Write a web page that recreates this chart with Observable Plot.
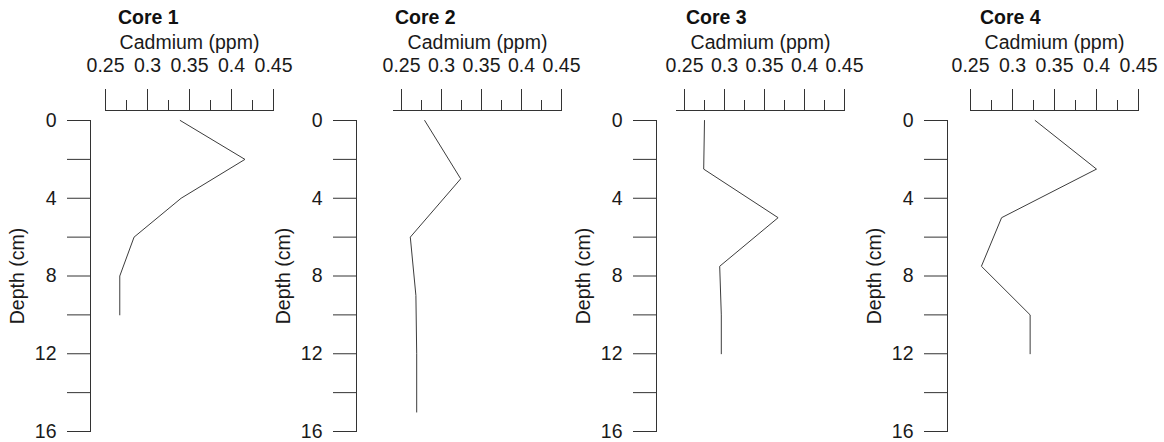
<!DOCTYPE html>
<html>
<head>
<meta charset="utf-8">
<script src="https://cdn.jsdelivr.net/npm/d3@7"></script>
<script src="https://cdn.jsdelivr.net/npm/@observablehq/plot@0.6"></script>
<style>
  html, body { margin: 0; padding: 0; background: #fff; overflow: hidden; }
  #chart { position: relative; width: 1164px; height: 442px; font-family: "Liberation Sans", Arial, sans-serif; }
  .panel { position: absolute; top: 0; }
  .title { position: absolute; top: 8px; font-size: 19.5px; line-height: 18px; font-weight: bold; color: #111; white-space: nowrap; }
</style>
</head>
<body>
<div id="chart"></div>
<script>
// ---- data ----
const coreNames = ["Core 1", "Core 2", "Core 3", "Core 4"];
const xLabel = "Cadmium (ppm)";
const yLabel = "Depth (cm)";

const depths1 = [0, 2, 4, 6, 8, 10];
const cadmium1 = [0.339, 0.416, 0.34, 0.284, 0.267, 0.267];

const depths2 = [0, 3, 6, 9, 12, 15];
const cadmium2 = [0.279, 0.324, 0.261, 0.268, 0.269, 0.269];

const depths3 = [0, 2.5, 5, 7.5, 10, 12];
const cadmium3 = [0.275, 0.274, 0.367, 0.294, 0.296, 0.296];

const depths4 = [0, 2.5, 5, 7.5, 10, 12];
const cadmium4 = [0.327, 0.4, 0.287, 0.263, 0.321, 0.321];

const xDomains = [[0.25, 0.45], [0.24, 0.45], [0.24, 0.45], [0.25, 0.45]];
const xMajorTicks = [0.25, 0.3, 0.35, 0.4, 0.45];
const xMinorTicks = [0.275, 0.325, 0.375, 0.425];
const yDomain = [0, 16];
const yTicks = [0, 2, 4, 6, 8, 10, 12, 14, 16];
const yLabelTicks = [0, 4, 8, 12, 16];

// ---- layout (not data) ----
const yAxisX = [90, 356, 656, 947];
const axisGap = [15, 37, 20, 23];
const titleLeft = [118, 395, 686, 980];
const axisWidth = 168;
const mLeft = 90, mRight = 26, mTop = 120, mBottom = 11;

const axisColor = "#333";
const lineColor = "#3c3c3c";
const textColor = "#1a1a1a";

const series = [
  [depths1, cadmium1],
  [depths2, cadmium2],
  [depths3, cadmium3],
  [depths4, cadmium4]
];

const chart = document.getElementById("chart");

series.forEach(([depths, cad], i) => {
  const data = depths.map((d, k) => ({depth: d, cadmium: cad[k]}));
  const dom = xDomains[i];
  const x0 = mLeft + axisGap[i];
  const plot = Plot.plot({
    width: mLeft + axisGap[i] + axisWidth + mRight,
    height: 442,
    marginLeft: mLeft,
    marginRight: mRight,
    marginTop: mTop,
    marginBottom: mBottom,
    style: {
      fontFamily: '"Liberation Sans", Arial, sans-serif',
      fontSize: "19.5px",
      color: textColor,
      background: "transparent",
      overflow: "visible"
    },
    x: {domain: dom, range: [x0, x0 + axisWidth]},
    y: {domain: yDomain, reverse: true},
    marks: [
      Plot.frame({anchor: "left", stroke: axisColor}),
      Plot.axisY(yTicks, {
        anchor: "left",
        tickSize: 23,
        tickPadding: 11,
        stroke: axisColor,
        fill: textColor,
        tickFormat: (d) => (yLabelTicks.includes(d) ? String(d) : ""),
        label: yLabel,
        labelAnchor: "center",
        labelOffset: 80,
        labelArrow: "none"
      }),
      Plot.ruleY([0], {x1: dom[0], x2: dom[1], dy: -10, stroke: axisColor}),
      Plot.axisX(xMajorTicks, {
        anchor: "top",
        tickSize: 22,
        tickPadding: 17,
        dy: -10,
        stroke: axisColor,
        fill: textColor,
        tickFormat: (d) => String(+d.toFixed(3)),
        label: null
      }),
      Plot.axisX(xMinorTicks, {
        anchor: "top",
        tickSize: 11,
        dy: -10,
        stroke: axisColor,
        fill: "none",
        label: null
      }),
      Plot.text([xLabel], {
        x: (dom[0] + dom[1]) / 2,
        frameAnchor: "top",
        lineAnchor: "top",
        dy: -85,
        fill: textColor
      }),
      Plot.line(data, {x: "cadmium", y: "depth", stroke: lineColor, strokeWidth: 1})
    ]
  });
  const wrap = document.createElement("div");
  wrap.className = "panel";
  wrap.style.left = (yAxisX[i] - mLeft) + "px";
  wrap.appendChild(plot);
  chart.appendChild(wrap);

  const t = document.createElement("div");
  t.className = "title";
  t.style.left = titleLeft[i] + "px";
  t.textContent = coreNames[i];
  chart.appendChild(t);
});
</script>
</body>
</html>
